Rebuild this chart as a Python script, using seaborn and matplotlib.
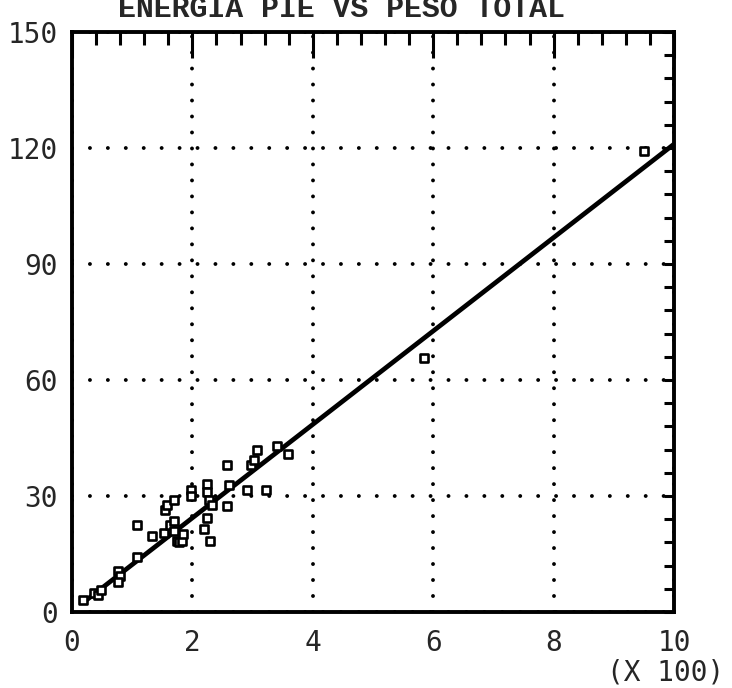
import matplotlib
matplotlib.use("Agg")
import matplotlib.pyplot as plt
import seaborn as sns
import pandas as pd
from matplotlib.ticker import MultipleLocator

# Peso total (in hundreds) and energia pie for each sample
peso_total = [0.19, 0.36, 0.44, 0.49, 0.77, 0.80, 0.77, 1.08, 1.08, 1.33,
              1.52, 1.55, 1.58, 1.63, 1.69, 1.69, 1.69, 1.74, 1.77, 1.83,
              1.85, 1.97, 1.97, 2.19, 2.24, 2.30, 2.24, 2.24, 2.27, 2.33,
              2.58, 2.58, 2.61, 2.91, 3.22, 2.97, 3.02, 3.08, 3.41, 3.58,
              5.84, 9.50]
energia_pie = [3.0, 4.8, 4.3, 5.6, 10.7, 9.4, 7.7, 14.1, 22.6, 19.6,
               20.5, 26.5, 27.7, 22.6, 29.0, 23.5, 20.9, 18.4, 18.1, 18.4,
               20.3, 31.6, 29.9, 21.4, 24.3, 18.4, 33.2, 31.1, 29.0, 27.7,
               27.3, 37.9, 32.8, 31.6, 31.6, 37.9, 39.2, 41.8, 43.0, 40.9,
               65.6, 119.2]

# Fitted straight line, end points
ajuste_x = [0.2, 10.0]
ajuste_y = [2.6, 121.0]

x_ticks = [0, 2, 4, 6, 8, 10]
y_ticks = [0, 30, 60, 90, 120, 150]
titulo = "ENERGIA PIE VS PESO TOTAL"
escala = "(X 100)"

sns.set_style("white")
label_font = ["DejaVu Sans Mono"]
title_font = ["Liberation Mono", "DejaVu Sans Mono"]
label_size = 20

df = pd.DataFrame({"peso": peso_total, "energia": energia_pie})
fit = pd.DataFrame({"x": ajuste_x, "y": ajuste_y})

fig = plt.figure(figsize=(7.32, 6.88), dpi=100)
ax = fig.add_axes([72 / 732, 76 / 688, 602 / 732, 580 / 688])

sns.lineplot(data=fit, x="x", y="y", ax=ax, color="black", linewidth=3.4,
             zorder=3)
sns.scatterplot(data=df, x="peso", y="energia", ax=ax, marker="s", s=38,
                facecolor="white", edgecolor="black", linewidth=1.9, zorder=4)

ax.set_xlim(0, 10)
ax.set_ylim(0, 150)
ax.set_xticks(x_ticks)
ax.set_yticks(y_ticks)
ax.xaxis.set_minor_locator(MultipleLocator(0.4))
ax.yaxis.set_minor_locator(MultipleLocator(6))
ax.set_xticklabels([str(t) for t in x_ticks], family=label_font,
                   fontsize=label_size)
ax.set_yticklabels([str(t) for t in y_ticks], family=label_font,
                   fontsize=label_size)
ax.set_xlabel("")
ax.set_ylabel("")

# dotted grid
ax.grid(True, which="major", axis="y", color="black", linewidth=2.8,
        linestyle=(0, (0.01, 4.6)))
ax.grid(True, which="major", axis="x", color="black", linewidth=2.8,
        linestyle=(0, (0.01, 4.1)))
for gl in ax.get_xgridlines() + ax.get_ygridlines():
    gl.set_dash_capstyle("round")

for sp in ax.spines.values():
    sp.set_visible(True)
    sp.set_linewidth(2.8)
    sp.set_color("black")

ax.tick_params(axis="both", which="both", direction="in", top=True,
               right=True, color="black", width=2.2)
ax.tick_params(axis="x", which="major", length=19, pad=12)
ax.tick_params(axis="x", which="minor", length=9)
ax.tick_params(axis="y", which="both", length=7, pad=10)

fig.text(341.5 / 732, 1 - 17 / 688, titulo, ha="center", va="baseline",
         family=title_font, fontweight="bold", fontsize=21.5)
fig.text(607 / 732, 1 - 672 / 688, escala, ha="left", va="center",
         family=label_font, fontsize=label_size)

fig.savefig("out.png", dpi=100)
